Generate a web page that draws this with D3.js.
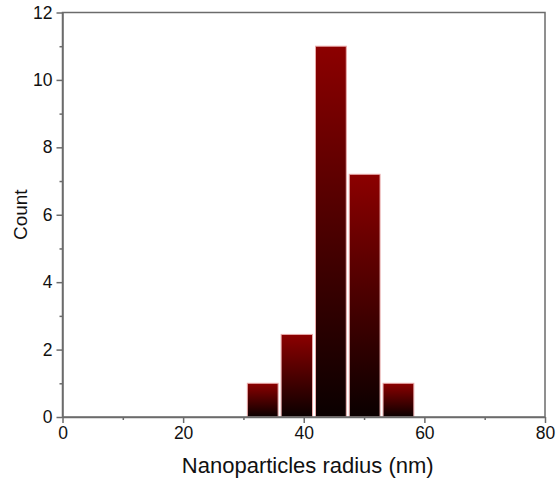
<!DOCTYPE html>
<html>
<head>
<meta charset="utf-8">
<script src="https://cdn.jsdelivr.net/npm/d3@7"></script>
<style>
  body { margin: 0; background: #fff; }
  text { font-family: "Liberation Sans", Arial, sans-serif; fill: #111; }
</style>
</head>
<body>
<svg id="chart" width="558" height="483"></svg>
<script>
// bin edges (nm) and counts
const binStart = [30.4, 36.0, 41.7, 47.3, 52.9]
const binEnd = [36.0, 41.7, 47.3, 52.9, 58.5]
const counts = [1, 2.45, 11, 7.2, 1]
const xTicks = [0, 20, 40, 60, 80]
const yTicks = [0, 2, 4, 6, 8, 10, 12]

const margin = { top: 12.5, right: 13, bottom: 66, left: 62.5 }
const width = 558 - margin.left - margin.right
const height = 483 - margin.top - margin.bottom
const axisColor = '#6b6b6b'

const svg = d3.select('#chart')

const defs = svg.append('defs')
const grad = defs.append('linearGradient')
  .attr('id', 'barGrad')
  .attr('x1', 0).attr('y1', 0).attr('x2', 0).attr('y2', 1)
grad.append('stop').attr('offset', '0%').attr('stop-color', '#8c0000')
grad.append('stop').attr('offset', '100%').attr('stop-color', '#0a0000')

const g = svg.append('g')
  .attr('transform', 'translate(' + margin.left + ',' + margin.top + ')')

const x = d3.scaleLinear().domain([0, 80]).range([0, width])
const y = d3.scaleLinear().domain([0, 12]).range([height, 0])

// bars
g.selectAll('.bar')
  .data(counts)
  .enter()
  .append('rect')
  .attr('class', 'bar')
  .attr('x', (d, i) => x(binStart[i]) + 1.5)
  .attr('width', (d, i) => x(binEnd[i]) - x(binStart[i]) - 3)
  .attr('y', d => y(d))
  .attr('height', d => y(0) - y(d))
  .attr('fill', 'url(#barGrad)')
  .attr('stroke', '#e9a9a9')
  .attr('stroke-width', 1)

// frame
g.append('rect')
  .attr('width', width)
  .attr('height', height)
  .attr('fill', 'none')
  .attr('stroke', axisColor)
  .attr('stroke-width', 1.5)

// minor ticks
const xMinor = d3.range(10, 80, 20)
const yMinor = d3.range(1, 12, 2)

g.append('g')
  .attr('class', 'x axis')
  .attr('transform', 'translate(0,' + height + ')')
  .call(d3.axisBottom(x).tickValues(xTicks).tickSize(6).tickSizeOuter(0).tickPadding(4))
g.append('g')
  .attr('transform', 'translate(0,' + height + ')')
  .call(d3.axisBottom(x).tickValues(xMinor).tickSize(3).tickFormat(''))
  .call(a => a.select('.domain').remove())

g.append('g')
  .attr('class', 'y axis')
  .call(d3.axisLeft(y).tickValues(yTicks).tickSize(6).tickSizeOuter(0).tickPadding(4))
g.append('g')
  .call(d3.axisLeft(y).tickValues(yMinor).tickSize(3).tickFormat(''))
  .call(a => a.select('.domain').remove())

g.selectAll('.tick line').attr('stroke', axisColor).attr('stroke-width', 1.5)
g.selectAll('.domain').attr('stroke', axisColor).attr('stroke-width', 1.5)
g.selectAll('.axis text')
  .style('font-size', '17.5px')
  .style('font-family', '"Liberation Sans", Arial, sans-serif')
  .style('fill', '#111')

// labels
g.append('text')
  .text('Nanoparticles radius (nm)')
  .attr('x', width / 2 + 4)
  .attr('y', height + 56)
  .attr('text-anchor', 'middle')
  .style('font-size', '22px')

g.append('text')
  .text('Count')
  .attr('transform', 'translate(' + (-36) + ',' + (height / 2) + ') rotate(-90)')
  .attr('text-anchor', 'middle')
  .style('font-size', '19px')
</script>
</body>
</html>
